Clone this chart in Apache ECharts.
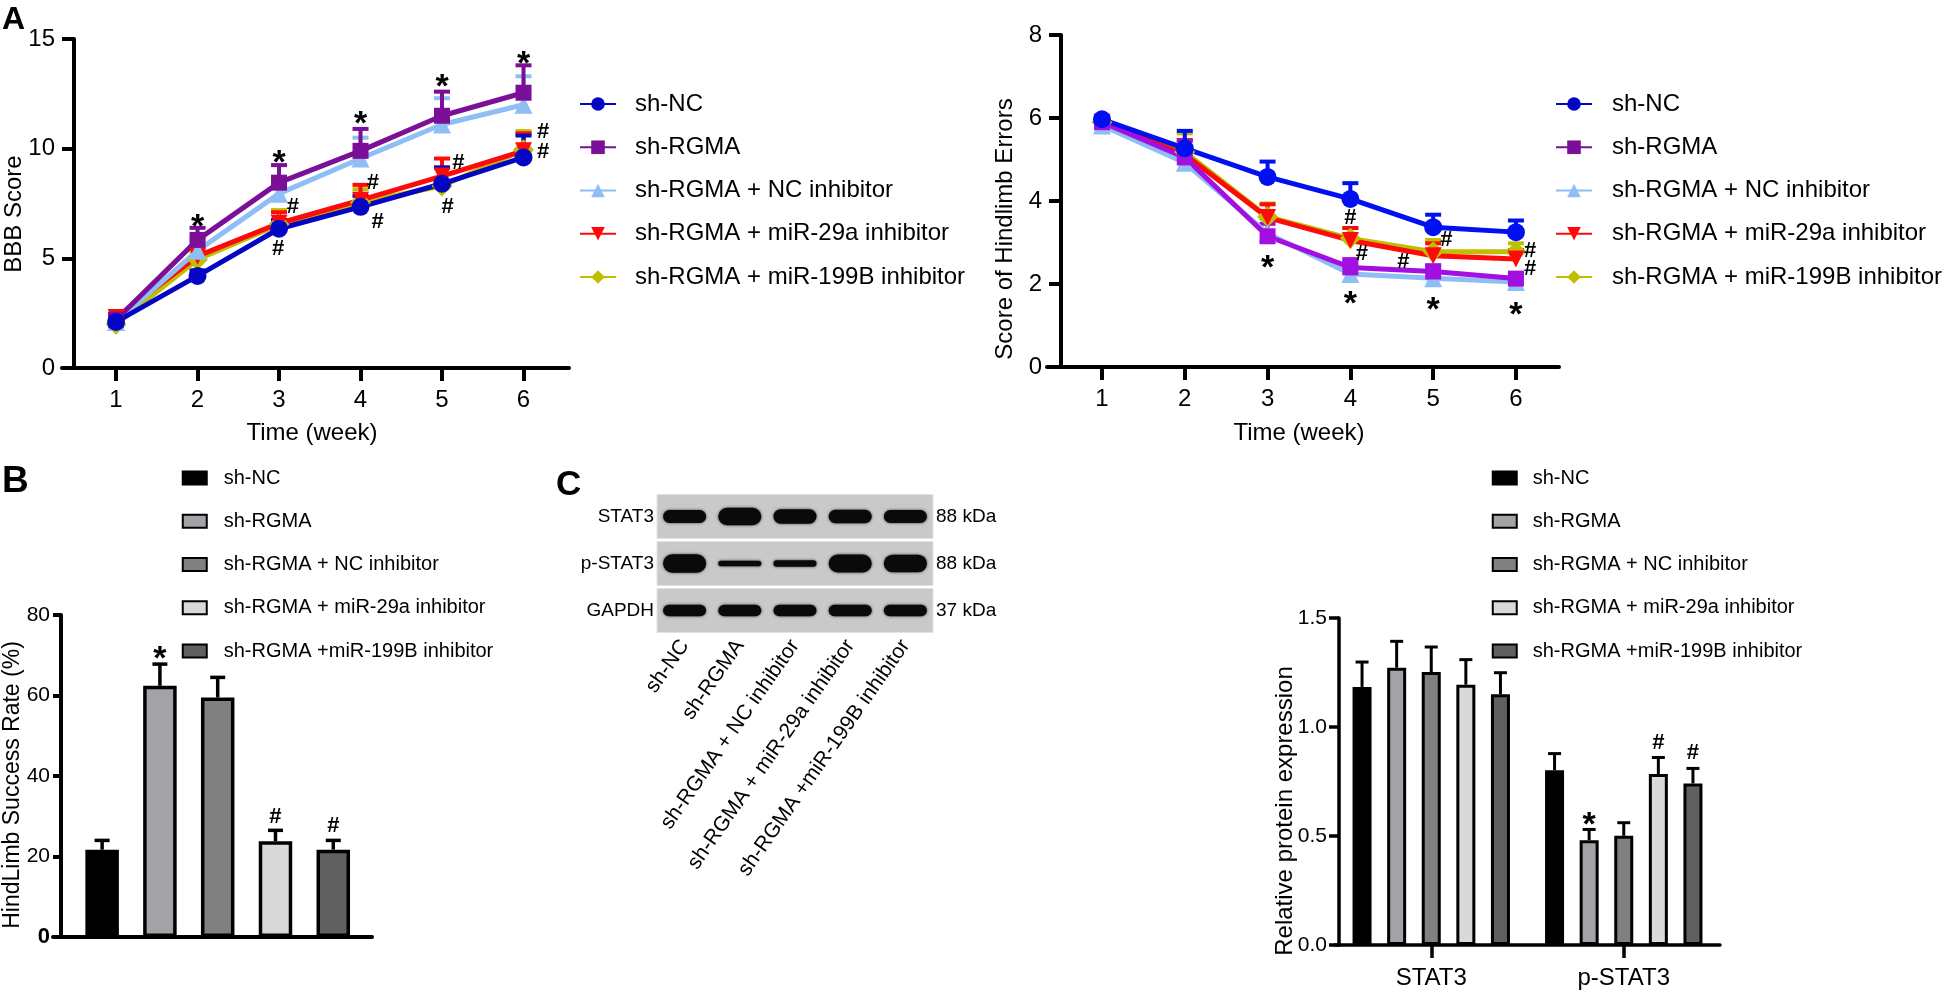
<!DOCTYPE html>
<html><head><meta charset="utf-8">
<script src="https://cdn.jsdelivr.net/npm/echarts@6.0.0/dist/echarts.min.js"></script>
<style>html,body{margin:0;padding:0;background:#fff;}#chart{width:1946px;height:999px;}</style>
</head><body><div id="chart"></div>
<script>
// ---------------- data ----------------
const WEEKS = [1, 2, 3, 4, 5, 6];
const LINE_GROUPS = ['sh-NC', 'sh-RGMA', 'sh-RGMA + NC inhibitor', 'sh-RGMA + miR-29a inhibitor', 'sh-RGMA + miR-199B inhibitor'];
const BAR_GROUPS = ['sh-NC', 'sh-RGMA', 'sh-RGMA + NC inhibitor', 'sh-RGMA + miR-29a inhibitor', 'sh-RGMA +miR-199B inhibitor'];

// BBB score (mean, upper SD)
const BBB_SHNC = [2.1, 4.2, 6.35, 7.35, 8.4, 9.6];
const BBB_SHNC_SD = [0.15, 0.25, 0.4, 0.5, 0.75, 1.0];
const BBB_SHRGMA = [2.2, 5.84, 8.45, 9.9, 11.5, 12.55];
const BBB_SHRGMA_SD = [0.15, 0.55, 0.8, 1.0, 1.1, 1.25];
const BBB_NCINH = [2.1, 5.35, 7.95, 9.55, 11.1, 12.0];
const BBB_NCINH_SD = [0.15, 0.5, 0.7, 0.95, 1.2, 1.3];
const BBB_MIR29A = [2.3, 5.1, 6.6, 7.65, 8.75, 9.9];
const BBB_MIR29A_SD = [0.15, 0.4, 0.5, 0.7, 0.8, 0.8];
const BBB_MIR199B = [2.0, 4.95, 6.55, 7.55, 8.3, 9.95];
const BBB_MIR199B_SD = [0.15, 0.35, 0.65, 0.6, 0.8, 0.85];
const BBB_STARS = [[2, 6.78], [3, 9.7], [4, 11.47], [5, 13.14], [6, 14.2]];
const BBB_HASHES = [[3.17, 7.35], [2.99, 5.45], [4.15, 8.45], [4.21, 6.67], [5.2, 9.33], [5.07, 7.35], [6.24, 10.74], [6.24, 9.87]];

// Score of hindlimb errors (mean, upper SD)
const HE_SHNC = [5.97, 5.27, 4.58, 4.05, 3.37, 3.25];
const HE_SHNC_SD = [0.08, 0.42, 0.37, 0.38, 0.3, 0.28];
const HE_SHRGMA = [5.9, 5.05, 3.15, 2.4, 2.3, 2.13];
const HE_SHRGMA_SD = [0.08, 0.4, 0.3, 0.2, 0.15, 0.12];
const HE_NCINH = [5.82, 4.92, 3.22, 2.24, 2.14, 2.05];
const HE_NCINH_SD = [0.08, 0.4, 0.35, 0.2, 0.15, 0.12];
const HE_MIR29A = [5.9, 5.12, 3.6, 3.05, 2.68, 2.6];
const HE_MIR29A_SD = [0.08, 0.35, 0.32, 0.3, 0.3, 0.22];
const HE_MIR199B = [5.9, 5.18, 3.62, 3.1, 2.78, 2.78];
const HE_MIR199B_SD = [0.08, 0.45, 0.32, 0.25, 0.28, 0.2];
const HE_STARS = [[3, 2.57], [4, 1.69], [5, 1.55], [6, 1.42]];
const HE_HASHES = [[4.0, 3.58], [4.14, 2.73], [4.64, 2.53], [5.16, 3.06], [6.17, 2.8], [6.17, 2.36]];

// HindLimb success rate (%)
const SUCCESS = [21.7, 62.4, 59.5, 23.8, 21.7];
const SUCCESS_SD = [2.3, 5.4, 5.0, 2.7, 2.3];
const SUCCESS_STARS = [[1, 70.9]];
const SUCCESS_HASHES = [[3, 29.9], [4, 27.6]];

// Western blot
const BLOT_ROWS = ['STAT3', 'p-STAT3', 'GAPDH'];
const BLOT_KDA = ['88 kDa', '88 kDa', '37 kDa'];
const BAND_STAT3 = [0.68, 0.92, 0.78, 0.72, 0.68];
const BAND_PSTAT3 = [0.98, 0.3, 0.35, 0.95, 0.93];
const BAND_GAPDH = [0.62, 0.62, 0.62, 0.6, 0.6];

// Relative protein expression
const PROTEINS = ['STAT3', 'p-STAT3'];
const REL_SHNC = [1.184, 0.802];
const REL_SHNC_SD = [0.114, 0.076];
const REL_SHRGMA = [1.272, 0.481];
const REL_SHRGMA_SD = [0.121, 0.049];
const REL_NCINH = [1.252, 0.501];
const REL_NCINH_SD = [0.115, 0.06];
const REL_MIR29A = [1.194, 0.784];
const REL_MIR29A_SD = [0.115, 0.076];
const REL_MIR199B = [1.15, 0.741];
const REL_MIR199B_SD = [0.099, 0.069];
const REL_STARS = [[1, 0.583, 1]];
const REL_HASHES = [[1, 0.927, 3], [1, 0.881, 4]];

// ---------------- style ----------------
const FONT = '"Liberation Sans", Arial, sans-serif';
const LEFT_COLORS = ['#0505c4', '#7b0f97', '#8fbef5', '#ff0a0a', '#bfbf00'];
const RIGHT_COLORS = ['#0010f0', '#a30fe0', '#8fbef5', '#ff0a0a', '#bfbf00'];
const SYMBOLS = ['circle', 'rect', 'triangle', 'path://M0,0L10,0L5,9Z', 'diamond'];
const SYMBOL_SIZES = [18, 16, 18, 17, 21];
const BAR_FILLS = ['#000000', '#a3a3a7', '#808080', '#d9d9d9', '#606060'];
const C_BAR_W = 19, C_BAR_PITCH = 34.6;

const BBB_MEANS = [BBB_SHNC, BBB_SHRGMA, BBB_NCINH, BBB_MIR29A, BBB_MIR199B];
const BBB_SDS = [BBB_SHNC_SD, BBB_SHRGMA_SD, BBB_NCINH_SD, BBB_MIR29A_SD, BBB_MIR199B_SD];
const HE_MEANS = [HE_SHNC, HE_SHRGMA, HE_NCINH, HE_MIR29A, HE_MIR199B];
const HE_SDS = [HE_SHNC_SD, HE_SHRGMA_SD, HE_NCINH_SD, HE_MIR29A_SD, HE_MIR199B_SD];
const REL_MEANS = [REL_SHNC, REL_SHRGMA, REL_NCINH, REL_MIR29A, REL_MIR199B];
const REL_SDS = [REL_SHNC_SD, REL_SHRGMA_SD, REL_NCINH_SD, REL_MIR29A_SD, REL_MIR199B_SD];
const BANDS = [BAND_STAT3, BAND_PSTAT3, BAND_GAPDH];

function axisLine(w) { return { show: true, onZero: false, lineStyle: { color: '#000', width: w } }; }
function axisTick(len, w, extra) { return Object.assign({ show: true, length: len, lineStyle: { color: '#000', width: w } }, extra || {}); }

function errSeries(gi, data, color, lw, cap, dx) {
  return {
    type: 'custom', coordinateSystem: 'cartesian2d', xAxisIndex: gi, yAxisIndex: gi, silent: true, clip: false,
    data: data,
    renderItem: function (params, api) {
      const x = api.value(0), m = api.value(1), e = api.value(2);
      const p0 = api.coord([x, m]), p1 = api.coord([x, m + e]);
      const px = p0[0] + (dx || 0);
      return { type: 'group', children: [
        { type: 'line', shape: { x1: px, y1: p0[1], x2: px, y2: p1[1] }, style: { stroke: color, lineWidth: lw } },
        { type: 'line', shape: { x1: px - cap / 2, y1: p1[1], x2: px + cap / 2, y2: p1[1] }, style: { stroke: color, lineWidth: lw } }
      ] };
    }
  };
}
function annSeries(xi, yi, pts, text, font, dy, pitch) {
  return {
    type: 'custom', coordinateSystem: 'cartesian2d', xAxisIndex: xi, yAxisIndex: yi, silent: true, clip: false, z: 10,
    data: pts,
    renderItem: function (params, api) {
      const p = api.coord([api.value(0), api.value(1)]);
      const dx = pitch ? (api.value(2) - 2) * pitch : 0;
      return { type: 'text', x: p[0] + dx, y: p[1] + dy, style: { text: text, font: font, fill: '#000', align: 'center', verticalAlign: 'middle' } };
    }
  };
}

const series = [];
// error bars for the two line charts
[4, 3, 2, 1, 0].forEach(k => {
  series.push(errSeries(0, WEEKS.map((w, i) => [w, BBB_MEANS[k][i], BBB_SDS[k][i]]), LEFT_COLORS[k], 4, 16));
  series.push(errSeries(1, WEEKS.map((w, i) => [w, HE_MEANS[k][i], HE_SDS[k][i]]), RIGHT_COLORS[k], 4, 16));
});
[4, 3, 2, 1, 0].forEach(k => {
  series.push({
    type: 'line', name: 'L:' + LINE_GROUPS[k], xAxisIndex: 0, yAxisIndex: 0,
    data: WEEKS.map((w, i) => [w, BBB_MEANS[k][i]]),
    symbol: SYMBOLS[k], symbolSize: SYMBOL_SIZES[k], showSymbol: true,
    itemStyle: { color: LEFT_COLORS[k] }, lineStyle: { color: LEFT_COLORS[k], width: 5 }
  });
});
[4, 3, 2, 1, 0].forEach(k => {
  series.push({
    type: 'line', name: 'R:' + LINE_GROUPS[k], xAxisIndex: 1, yAxisIndex: 1,
    data: WEEKS.map((w, i) => [w, HE_MEANS[k][i]]),
    symbol: SYMBOLS[k], symbolSize: SYMBOL_SIZES[k], showSymbol: true,
    itemStyle: { color: RIGHT_COLORS[k] }, lineStyle: { color: RIGHT_COLORS[k], width: 5 }
  });
});
series.push(annSeries(0, 0, BBB_STARS, '*', 'bold 34px ' + FONT, 8));
series.push(annSeries(0, 0, BBB_HASHES, '#', 'bold 22px ' + FONT, 0));
series.push(annSeries(1, 1, HE_STARS, '*', 'bold 34px ' + FONT, 8));
series.push(annSeries(1, 1, HE_HASHES, '#', 'bold 22px ' + FONT, 0));

// panel B bars
BAR_GROUPS.forEach((g, k) => {
  series.push({
    type: 'bar', name: 'B:' + g, xAxisIndex: 2, yAxisIndex: 2, barWidth: 33.5, barGap: '-100%',
    data: [[k, SUCCESS[k]]],
    itemStyle: { color: BAR_FILLS[k], borderColor: '#000', borderWidth: 3.5 }
  });
});
series.push(errSeries(2, SUCCESS.map((v, k) => [k, v, SUCCESS_SD[k]]), '#000', 3.5, 15));
series.push(annSeries(2, 2, SUCCESS_STARS, '*', 'bold 34px ' + FONT, 8));
series.push(annSeries(2, 2, SUCCESS_HASHES, '#', 'bold 22px ' + FONT, 0));

// blot
series.push({
  type: 'custom', coordinateSystem: 'cartesian2d', xAxisIndex: 3, yAxisIndex: 3, silent: true,
  data: BLOT_ROWS.map((r, i) => [0, i]),
  renderItem: function (params, api) {
    const c = api.coord([0, api.value(1)]);
    const s = api.size([1, 1]);
    const cs = params.coordSys;
    return { type: 'rect', shape: { x: cs.x, y: c[1] - s[1] / 2 + 1.5, width: cs.width, height: s[1] - 3 }, style: { fill: '#c9c9c9', stroke: '#e2e2e2', lineWidth: 1 } };
  }
});
const bandData = [];
BANDS.forEach((row, r) => row.forEach((d, lane) => bandData.push([lane, r, d])));
series.push({
  type: 'custom', coordinateSystem: 'cartesian2d', xAxisIndex: 3, yAxisIndex: 3, silent: true,
  data: bandData,
  renderItem: function (params, api) {
    const c = api.coord([api.value(0), api.value(1)]);
    const s = api.size([1, 1]);
    const w = s[0] * 0.78, h = api.value(2) * s[1] * 0.4;
    return { type: 'rect', shape: { x: c[0] - w / 2, y: c[1] - h / 2, width: w, height: h, r: h / 2 }, style: { fill: '#0a0a0a', shadowBlur: 3, shadowColor: 'rgba(0,0,0,0.7)' } };
  }
});

// panel C bars
BAR_GROUPS.forEach((g, k) => {
  series.push({
    type: 'bar', name: 'C:' + g, xAxisIndex: 4, yAxisIndex: 5, barWidth: C_BAR_W, barGap: ((C_BAR_PITCH - C_BAR_W) / C_BAR_W * 100).toFixed(1) + '%',
    data: REL_MEANS[k],
    itemStyle: { color: BAR_FILLS[k], borderColor: '#000', borderWidth: 3 }
  });
});
BAR_GROUPS.forEach((g, k) => {
  series.push(Object.assign(errSeries(4, PROTEINS.map((p, i) => [i, REL_MEANS[k][i], REL_SDS[k][i]]), '#000', 3, 13, (k - 2) * C_BAR_PITCH), { yAxisIndex: 5 }));
});
series.push(annSeries(4, 5, REL_STARS, '*', 'bold 34px ' + FONT, 8, C_BAR_PITCH));
series.push(annSeries(4, 5, REL_HASHES, '#', 'bold 22px ' + FONT, 0, C_BAR_PITCH));

const lab = (size, margin, extra) => Object.assign({ fontFamily: FONT, fontSize: size, color: '#000', margin: margin }, extra || {});
const strip = n => n.slice(2);

const option = {
  animation: false,
  backgroundColor: '#fff',
  grid: [
    { left: 62, top: 39, width: 507, height: 329, outerBoundsMode: 'none' },
    { left: 1047, top: 35, width: 512, height: 332, outerBoundsMode: 'none' },
    { left: 53, top: 615, width: 319, height: 322, outerBoundsMode: 'none' },
    { left: 657, top: 493, width: 276, height: 141, outerBoundsMode: 'none' },
    { left: 1335, top: 618, width: 385, height: 327, outerBoundsMode: 'none' }
  ],
  xAxis: [
    { gridIndex: 0, type: 'value', min: 0.337, max: 6.558, axisLine: axisLine(4), axisTick: axisTick(13, 4, { customValues: WEEKS }), axisLabel: lab(24, 20, { customValues: WEEKS }), splitLine: { show: false } },
    { gridIndex: 1, type: 'value', min: 0.336, max: 6.52, axisLine: axisLine(4), axisTick: axisTick(13, 4, { customValues: WEEKS }), axisLabel: lab(24, 20, { customValues: WEEKS }), splitLine: { show: false } },
    { gridIndex: 2, type: 'value', min: -0.85, max: 4.67, axisLine: axisLine(4), axisTick: { show: false }, axisLabel: { show: false }, splitLine: { show: false } },
    { gridIndex: 3, type: 'category', data: BAR_GROUPS, axisLine: { show: false }, axisTick: { show: false }, axisLabel: lab(21, 8, { rotate: 55, interval: 0 }), splitLine: { show: false } },
    { gridIndex: 4, type: 'category', data: PROTEINS, axisLine: axisLine(3.5), axisTick: axisTick(13, 3.5, { alignWithLabel: true }), axisLabel: lab(24, 21), splitLine: { show: false } }
  ],
  yAxis: [
    { gridIndex: 0, type: 'value', min: 0, max: 15, interval: 5, offset: -12, axisLine: axisLine(4), axisTick: axisTick(12, 4), axisLabel: lab(24, 19), splitLine: { show: false } },
    { gridIndex: 1, type: 'value', min: 0, max: 8, interval: 2, offset: -14, axisLine: axisLine(4), axisTick: axisTick(12, 4), axisLabel: lab(24, 19), splitLine: { show: false } },
    { gridIndex: 2, type: 'value', min: 0, max: 80, interval: 20, offset: -8, axisLine: axisLine(4), axisTick: axisTick(8, 4), axisLabel: lab(21, 11, { formatter: v => v === 0 ? '{b|0}' : String(v), rich: { b: { fontFamily: FONT, fontSize: 22, fontWeight: 'bold', color: '#000' } } }), splitLine: { show: false } },
    { gridIndex: 3, type: 'category', data: BLOT_ROWS, inverse: true, position: 'left', axisLine: { show: false }, axisTick: { show: false }, axisLabel: lab(19, 3), splitLine: { show: false } },
    { gridIndex: 3, type: 'category', data: BLOT_ROWS, inverse: true, position: 'right', axisLine: { show: false }, axisTick: { show: false }, axisLabel: lab(19, 3, { formatter: (v, i) => BLOT_KDA[i] }), splitLine: { show: false } },
    { gridIndex: 4, type: 'value', min: 0, max: 1.5, interval: 0.5, offset: -4, axisLine: axisLine(3.5), axisTick: axisTick(10, 3.5), axisLabel: lab(21, 12, { formatter: v => v.toFixed(1) }), splitLine: { show: false } }
  ],
  legend: [
    { orient: 'vertical', left: 579, top: 92, padding: 0, itemWidth: 36, itemHeight: 17, itemGap: 19.25, selectedMode: false,
      data: LINE_GROUPS.map(g => 'L:' + g), formatter: strip, textStyle: { fontFamily: FONT, fontSize: 24, color: '#000', padding: [0, 0, 0, 14] } },
    { orient: 'vertical', left: 1555, top: 92, padding: 0, itemWidth: 36, itemHeight: 17, itemGap: 19.25, selectedMode: false,
      data: LINE_GROUPS.map(g => 'L:' + g), formatter: strip, textStyle: { fontFamily: FONT, fontSize: 24, color: '#000', padding: [0, 0, 0, 15] } },
    { orient: 'vertical', left: 181.75, top: 468, padding: 0, itemWidth: 24, itemHeight: 13, itemGap: 23.25, selectedMode: false, icon: 'rect',
      data: BAR_GROUPS.map(g => 'B:' + g), formatter: strip, textStyle: { fontFamily: FONT, fontSize: 20, color: '#000', padding: [0, 0, 0, 12] } },
    { orient: 'vertical', left: 1491.75, top: 468, padding: 0, itemWidth: 24, itemHeight: 13, itemGap: 23.25, selectedMode: false, icon: 'rect',
      data: BAR_GROUPS.map(g => 'C:' + g), formatter: strip, textStyle: { fontFamily: FONT, fontSize: 20, color: '#000', padding: [0, 0, 0, 11] } }
  ],
  graphic: [
    { type: 'text', left: 2, top: 4, style: { text: 'A', font: 'bold 32px ' + FONT, fill: '#000' } },
    { type: 'text', left: 2, top: 463, style: { text: 'B', font: 'bold 37px ' + FONT, fill: '#000' } },
    { type: 'text', left: 556, top: 468, style: { text: 'C', font: 'bold 35px ' + FONT, fill: '#000' } },
    { type: 'text', x: 312, y: 433, style: { text: 'Time (week)', font: '24px ' + FONT, fill: '#000', align: 'center', verticalAlign: 'middle' } },
    { type: 'text', x: 1299, y: 433, style: { text: 'Time (week)', font: '24px ' + FONT, fill: '#000', align: 'center', verticalAlign: 'middle' } },
    { type: 'text', x: 14, y: 214, rotation: Math.PI / 2, style: { text: 'BBB Score', font: '24px ' + FONT, fill: '#000', align: 'center', verticalAlign: 'middle' } },
    { type: 'text', x: 1005, y: 229, rotation: Math.PI / 2, style: { text: 'Score of Hindlimb Errors', font: '24px ' + FONT, fill: '#000', align: 'center', verticalAlign: 'middle' } },
    { type: 'text', x: 13, y: 785, rotation: Math.PI / 2, style: { text: 'HindLimb Success Rate (%)', font: '23px ' + FONT, fill: '#000', align: 'center', verticalAlign: 'middle' } },
    { type: 'text', x: 1285, y: 811, rotation: Math.PI / 2, style: { text: 'Relative protein expression', font: '24px ' + FONT, fill: '#000', align: 'center', verticalAlign: 'middle' } }
  ],
  series: series
};

const chart = echarts.init(document.getElementById('chart'), null, { renderer: 'canvas' });
chart.setOption(option);
</script>
</body></html>
